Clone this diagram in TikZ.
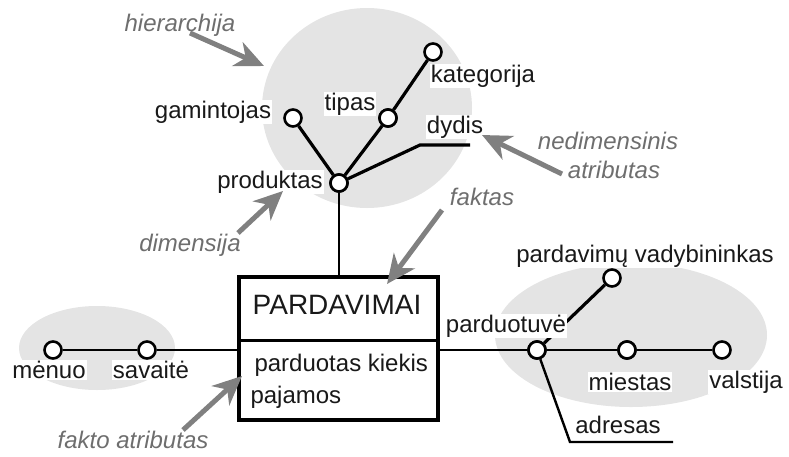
\documentclass[tikz,border=0pt]{standalone}
\usepackage{fontspec}
\setmainfont{Liberation Sans}
\usetikzlibrary{arrows.meta}
\definecolor{blob}{RGB}{228,228,228}
\definecolor{notegray}{RGB}{110,110,110}
\definecolor{arrowgray}{RGB}{128,128,128}
\definecolor{ink}{RGB}{25,25,25}
\begin{document}
\begin{tikzpicture}[x=1pt,y=-1pt,
  lvl/.style={circle,draw=black,fill=white,line width=2.6pt,minimum size=17pt,inner sep=0pt},
  lbl/.style={fill=white,text=ink,inner sep=1pt,font=\fontsize{24}{28}\selectfont},
  note/.style={text=notegray,inner sep=0pt,font=\fontsize{24}{28}\selectfont\itshape},
  notearrow/.style={draw=arrowgray,line width=5pt,
    -{Stealth[length=29pt,width=26pt,inset=9pt]}},
  thick link/.style={line width=3.2pt},
  thin link/.style={line width=2.4pt}]
\useasboundingbox (0,0) rectangle (789,456);

% grey areas of the dimensions
\fill[blob] (367,108) ellipse [x radius=105, y radius=100];
\fill[blob] (631,335) ellipse [x radius=136, y radius=72];
\fill[blob] (97,348) ellipse [x radius=78, y radius=42];

% fact box
\node[draw=black,line width=4pt,minimum width=199pt,minimum height=143pt,
      inner sep=0pt] (fact) at (338.5,348.5) {};
\coordinate (div) at (0,340);
\draw[line width=3pt] (fact.west |- div) -- (fact.east |- div);
\node[text=ink,font=\fontsize{28}{32}\selectfont] (factname) at (337,305) {PARDAVIMAI};
\node[text=ink,font=\fontsize{24}{28}\selectfont,anchor=west] (qty) at (251,365) {parduotas kiekis};
\node[text=ink,font=\fontsize{24}{28}\selectfont,anchor=west] (income) at (247,397) {pajamos};

% product dimension
\node[lvl] (produktas) at (339,183) {};
\node[lvl] (gamintojas) at (293,118) {};
\node[lvl] (tipas) at (388,118) {};
\node[lvl] (kategorija) at (433,52) {};
\coordinate (dydisbend) at (420,145);
\coordinate (dydisend) at (470,145);
\draw[thin link] (produktas) -- (produktas |- fact.north);
\draw[thick link] (produktas) -- (gamintojas);
\draw[thick link] (produktas) -- (tipas);
\draw[thick link] (tipas) -- (kategorija);
\draw[thick link] (produktas) -- (dydisbend) -- (dydisend);
\node[lvl] at (produktas) {};
\node[lvl] at (tipas) {};
\node[lbl] (lgamintojas) at (213,112) {gamintojas};
\node[lbl] (ltipas) at (350,104) {tipas};
\node[lbl] (lkategorija) at (483,76) {kategorija};
\node[lbl] (ldydis) at (455,127) {dydis};
\node[lbl] (lproduktas) at (270,182) {produktas};

% time dimension
\node[lvl] (menuo) at (53,350) {};
\node[lvl] (savaite) at (147,350) {};
\draw[thin link] (menuo) -- (savaite);
\draw[thin link] (savaite) -- (savaite -| fact.west);
\node[lbl] (lmenuo) at (49,370) {mėnuo};
\node[lbl] (lsavaite) at (151,370) {savaitė};

% store dimension
\node[lvl] (parduotuve) at (537,350) {};
\node[lvl] (vadybininkas) at (612,278) {};
\node[lvl] (miestas) at (627,350) {};
\node[lvl] (valstija) at (722,350) {};
\coordinate (adresasbend) at (570,442);
\coordinate (adresasend) at (673,442);
\draw[thin link] (parduotuve) -- (parduotuve -| fact.east);
\draw[thick link] (parduotuve) -- (vadybininkas);
\draw[thin link] (parduotuve) -- (miestas) -- (valstija);
\draw[thin link] (parduotuve) -- (adresasbend) -- (adresasend);
\node[lvl] at (parduotuve) {};
\node[lvl] at (miestas) {};
\node[lbl] (lparduotuve) at (506,326) {parduotuvė};
\node[lbl] (lvadybininkas) at (645,256) {pardavimų vadybininkas};
\node[lbl] (lmiestas) at (630,382) {miestas};
\node[lbl] (lvalstija) at (746,382) {valstija};
\node[lbl] (ladresas) at (618,425) {adresas};

% annotations
\node[note] (hier) at (180,25) {hierarchija};
\node[note] (nedim) at (608,141) {nedimensinis};
\node[note] (nedim2) at (614,170) {atributas};
\node[note] (faktas) at (482,197) {faktas};
\node[note] (dimensija) at (190,245) {dimensija};
\node[note] (faktoatr) at (133,440) {fakto atributas};

\coordinate (hierfrom) at (190,33);
\coordinate (hierto) at (264,66);
\coordinate (nedimfrom) at (562,174);
\coordinate (nedimto) at (482,135);
\coordinate (faktasfrom) at (442,210);
\coordinate (faktasto) at (387,284);
\coordinate (dimfrom) at (238,233);
\coordinate (dimto) at (283,191);
\coordinate (faktoatrfrom) at (183,430);
\coordinate (faktoatrto) at (242,376);
\draw[notearrow] (hierfrom) -- (hierto);
\draw[notearrow] (nedimfrom) -- (nedimto);
\draw[notearrow] (faktasfrom) -- (faktasto);
\draw[notearrow] (dimfrom) -- (dimto);
\draw[notearrow] (faktoatrfrom) -- (faktoatrto);
\end{tikzpicture}
\end{document}
